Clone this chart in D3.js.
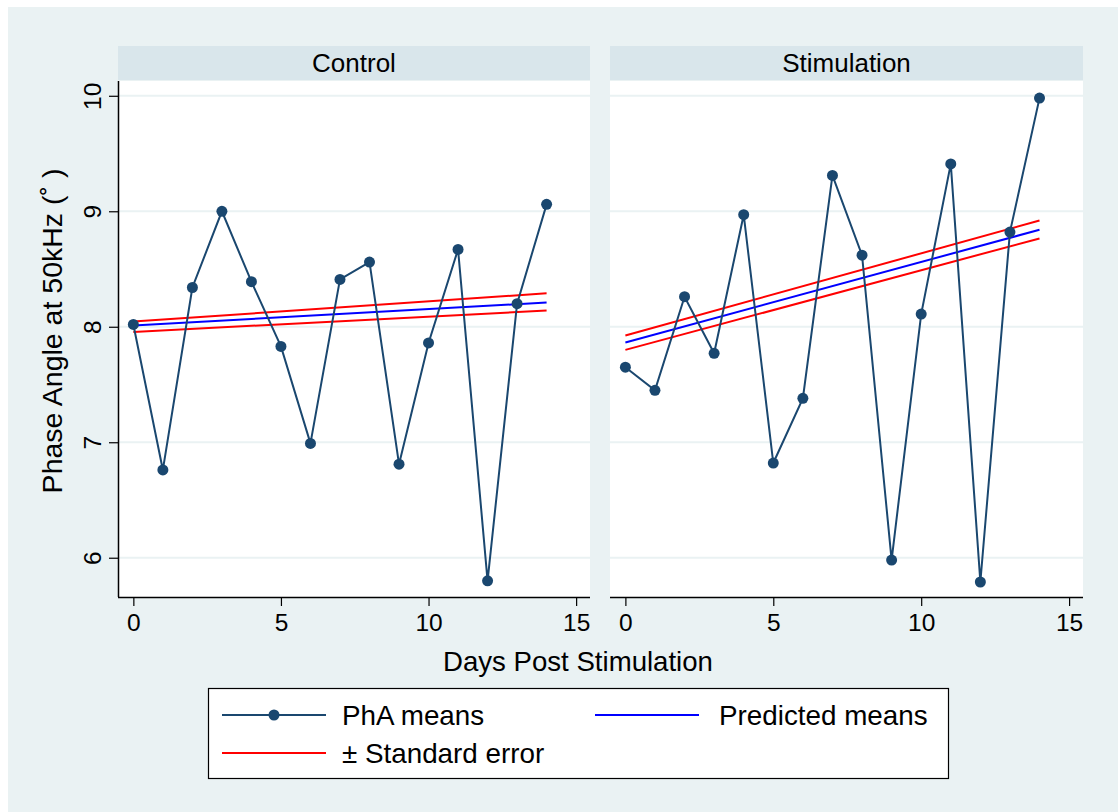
<!DOCTYPE html>
<html>
<head>
<meta charset="utf-8">
<script src="https://cdn.jsdelivr.net/npm/d3@7"></script>
<style>
  html, body { margin: 0; padding: 0; background: #ffffff; }
  svg { display: block; font-family: "Liberation Sans", Arial, sans-serif; }
</style>
</head>
<body>
<svg id="chart" width="1118" height="812"></svg>
<script>
// ---------- data ----------
const days = [0, 1, 2, 3, 4, 5, 6, 7, 8, 9, 10, 11, 12, 13, 14];
const controlMeans = [8.02, 6.76, 8.34, 9.00, 8.39, 7.83, 6.99, 8.41, 8.56, 6.81, 7.86, 8.67, 5.80, 8.20, 9.06];
const stimMeans    = [7.65, 7.45, 8.26, 7.77, 8.97, 6.82, 7.38, 9.31, 8.62, 5.98, 8.11, 9.41, 5.79, 8.82, 9.98];

const predDays = [0, 14];
const controlPred  = [8.01, 8.21];
const controlUpper = [8.045, 8.29];
const controlLower = [7.955, 8.14];
const stimPred  = [7.864, 8.84];
const stimUpper = [7.925, 8.92];
const stimLower = [7.80, 8.765];

const panelNames = ["Control", "Stimulation"];
const xTicks = [0, 5, 10, 15];
const yTicks = [6, 7, 8, 9, 10];
const yTitle = "Phase Angle at 50kHz (˚ )";
const xTitle = "Days Post Stimulation";
const legendLabels = ["PhA means", "Predicted means", "± Standard error"];

// ---------- styling ----------
const C = {
  bg: "#eaf2f3", strip: "#d9e6eb", grid: "#eaf2f3",
  navy: "#1a476f", blue: "#0000ff", red: "#ff0000", axis: "#000000"
};

const svg = d3.select("#chart");
svg.append("rect").attr("x", 8).attr("y", 7).attr("width", 1110).attr("height", 805).attr("fill", C.bg);

const plotTop = 81, plotBottom = 597;
const panels = [
  { name: panelNames[0], left: 118, right: 590, means: controlMeans, pred: controlPred, up: controlUpper, lo: controlLower, yAxis: true },
  { name: panelNames[1], left: 610, right: 1083, means: stimMeans, pred: stimPred, up: stimUpper, lo: stimLower, yAxis: false }
];

const y = d3.scaleLinear().domain([5.66, 10.128]).range([plotBottom, plotTop]);

panels.forEach(p => {
  const x = d3.scaleLinear().domain([-0.52, 15.47]).range([p.left, p.right]);
  const g = svg.append("g");

  // strip
  g.append("rect").attr("x", p.left).attr("y", 46).attr("width", p.right - p.left).attr("height", 34).attr("fill", C.strip);
  g.append("text").attr("x", (p.left + p.right) / 2).attr("y", 72)
    .attr("text-anchor", "middle").attr("font-size", 26).attr("fill", "#000").text(p.name);

  // plot area
  g.append("rect").attr("x", p.left).attr("y", plotTop).attr("width", p.right - p.left).attr("height", plotBottom - plotTop).attr("fill", "#ffffff");

  // grid
  g.selectAll(".grid").data(yTicks).enter().append("line")
    .attr("x1", p.left).attr("x2", p.right)
    .attr("y1", d => y(d)).attr("y2", d => y(d))
    .attr("stroke", C.grid).attr("stroke-width", 2);

  // x axis
  const xAxis = d3.axisBottom(x).tickValues(xTicks).tickSize(9).tickPadding(8).tickFormat(d3.format("d"));
  const xa = g.append("g").attr("transform", `translate(0,${plotBottom})`).call(xAxis);
  xa.select(".domain").attr("d", `M${p.left},0.5H${p.right}`).attr("stroke", C.axis).attr("stroke-width", 1.5);
  xa.selectAll(".tick line").attr("stroke", C.axis).attr("stroke-width", 1.2);
  xa.selectAll(".tick text").attr("font-size", 24.5).attr("font-family", "Liberation Sans, Arial, sans-serif").attr("fill", "#000");

  if (p.yAxis) {
    const yAxis = d3.axisLeft(y).tickValues(yTicks).tickSize(9).tickFormat(d3.format("d"));
    const ya = g.append("g").attr("transform", `translate(${p.left},0)`).call(yAxis);
    ya.select(".domain").attr("d", `M0.5,${plotTop}V${plotBottom}`).attr("stroke", C.axis).attr("stroke-width", 1.5);
    ya.selectAll(".tick line").attr("stroke", C.axis).attr("stroke-width", 1.2);
    ya.selectAll(".tick text")
      .attr("x", null).attr("dy", null)
      .attr("font-size", 24.5).attr("font-family", "Liberation Sans, Arial, sans-serif").attr("fill", "#000")
      .attr("text-anchor", "middle")
      .attr("transform", "translate(-26,0) rotate(-90)")
      .attr("dy", "0.35em");
  }

  // fitted lines
  const line2 = vals => d3.line().x((d, i) => x(predDays[i])).y(d => y(d))(vals);
  g.append("path").attr("d", line2(p.up)).attr("fill", "none").attr("stroke", C.red).attr("stroke-width", 2);
  g.append("path").attr("d", line2(p.lo)).attr("fill", "none").attr("stroke", C.red).attr("stroke-width", 2);
  g.append("path").attr("d", line2(p.pred)).attr("fill", "none").attr("stroke", C.blue).attr("stroke-width", 2);

  // data line
  const ln = d3.line().x((d, i) => x(days[i])).y(d => y(d));
  g.append("path").attr("d", ln(p.means)).attr("fill", "none").attr("stroke", C.navy).attr("stroke-width", 2);
  g.selectAll(".pt").data(p.means).enter().append("circle")
    .attr("cx", (d, i) => x(days[i])).attr("cy", d => y(d)).attr("r", 5.5).attr("fill", C.navy);
});

// axis titles
svg.append("text").attr("transform", "translate(52,331) rotate(-90)").attr("text-anchor", "middle")
  .attr("dy", "0.35em").attr("font-size", 28.5).attr("fill", "#000").text(yTitle);
svg.append("text").attr("x", 578).attr("y", 671).attr("text-anchor", "middle")
  .attr("font-size", 27.6).attr("fill", "#000").text(xTitle);

// legend
const lg = svg.append("g");
lg.append("rect").attr("x", 208.5).attr("y", 688.5).attr("width", 740).attr("height", 90)
  .attr("fill", "#ffffff").attr("stroke", "#000").attr("stroke-width", 1.2);
const legendItems = [
  { label: legendLabels[0], color: C.navy, marker: true, lx: 222, tx: 342, ly: 715 },
  { label: legendLabels[1], color: C.blue, marker: false, lx: 595, tx: 719, ly: 715 },
  { label: legendLabels[2], color: C.red, marker: false, lx: 222, tx: 342, ly: 753 }
];
legendItems.forEach(it => {
  lg.append("line").attr("x1", it.lx).attr("x2", it.lx + 104).attr("y1", it.ly).attr("y2", it.ly)
    .attr("stroke", it.color).attr("stroke-width", 2);
  if (it.marker) lg.append("circle").attr("cx", it.lx + 52).attr("cy", it.ly).attr("r", 5.5).attr("fill", it.color);
  lg.append("text").attr("x", it.tx).attr("y", it.ly).attr("dy", "0.35em")
    .attr("font-size", 27.8).attr("fill", "#000").text(it.label);
});
</script>
</body>
</html>
